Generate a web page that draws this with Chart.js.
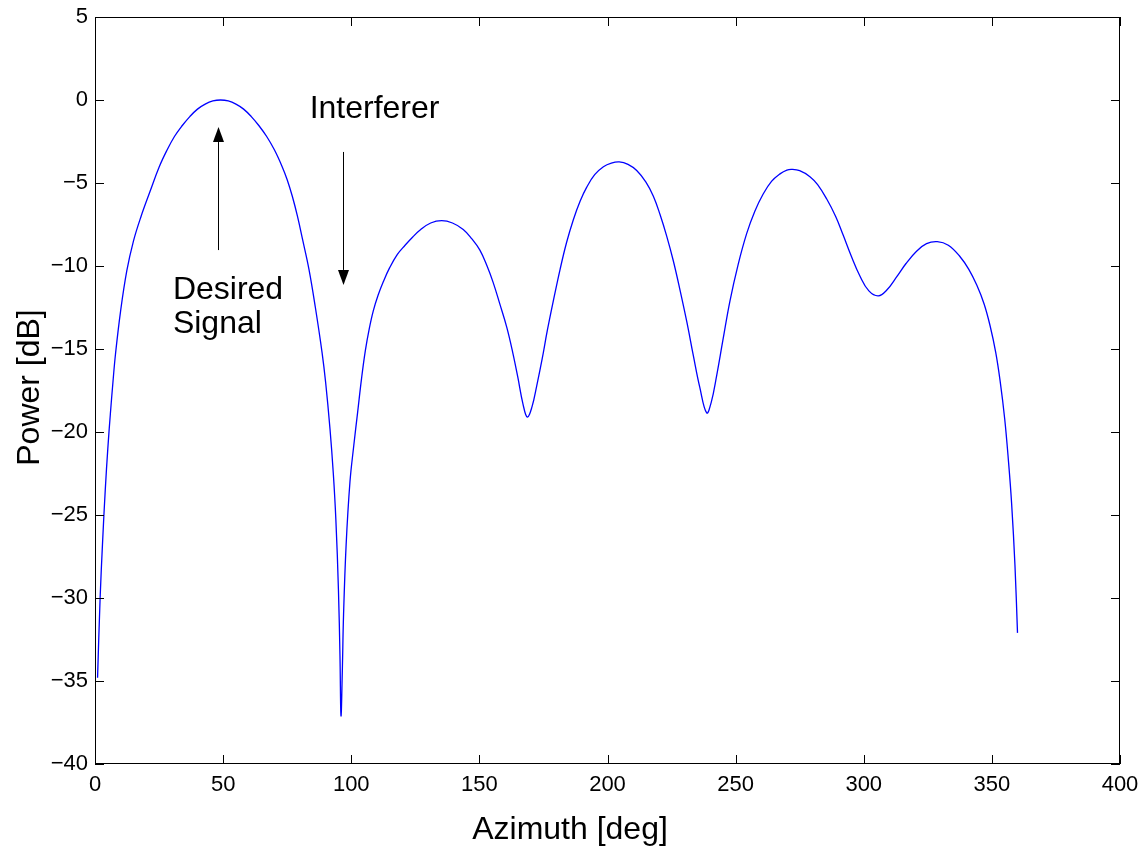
<!DOCTYPE html>
<html>
<head>
<meta charset="utf-8">
<script src="https://cdn.jsdelivr.net/npm/chart.js@4/dist/chart.umd.min.js"></script>
<style>
html,body{margin:0;padding:0;background:#fff;}
#c{display:block;}
</style>
</head>
<body>
<canvas id="c" width="1139" height="848"></canvas>
<script>
// ---- data ----
const azimuth = [1,2,3,4,5,6,7,8,10,12.4,15,18,21.5,25,28,31,34,37,40,43,46,49,52,55,58,61,64,67,70,73,75,77,79,81,83.5,86,88.6,90,91.7,93,94,95,95.6,96,96.5,97,98,99.5,101,102.5,104,105.5,107,108.6,110.5,112.5,115,118,121,124,127,131,135.3,139.5,143.7,147,150.2,153,155.4,158,160.7,163,165,167,168.7,170.5,172.4,174.5,176.5,179,181.5,184,186.7,189.3,191.9,195,198.4,201.5,204.6,208,211.4,215,217.9,220.5,223.1,225.7,228.3,231,233.5,236,238.7,240.5,242.6,245,247.8,251,254.3,257.5,260.8,264,267.3,270,272,275,279,282,285.5,289,292,295,298.5,302,305.7,309,312.9,316.5,320.7,324.5,328.7,333,337.6,341,344.1,347,349.3,351.5,353.2,355,356.5,357.7,359,360];
const powerDb = [-34.8,-30,-26.5,-23.5,-21.0,-18.9,-17.0,-15.3,-12.7,-10.3,-8.5,-7.0,-5.5,-4.05,-3.05,-2.2,-1.55,-1.0,-0.55,-0.25,-0.06,0,-0.06,-0.25,-0.55,-1.0,-1.55,-2.2,-3.0,-4.0,-4.8,-5.8,-7.0,-8.4,-10.2,-12.5,-15.2,-17,-19.8,-22.5,-25.3,-29.5,-33.5,-37.1,-34.5,-31,-26.8,-23,-20.8,-18.8,-16.8,-15.1,-13.8,-12.7,-11.75,-10.95,-10.1,-9.3,-8.75,-8.25,-7.82,-7.41,-7.27,-7.41,-7.8,-8.35,-9.04,-10.0,-11.0,-12.3,-13.7,-15.2,-16.7,-18.3,-19.1,-18.5,-17.2,-15.6,-13.9,-12.0,-10.2,-8.6,-7.2,-6.1,-5.25,-4.5,-4.02,-3.8,-3.73,-3.88,-4.25,-4.95,-5.8,-6.9,-8.2,-9.7,-11.45,-13.4,-15.4,-17.3,-18.85,-18.2,-16.6,-14.5,-12.1,-9.9,-8.05,-6.7,-5.65,-4.9,-4.45,-4.22,-4.18,-4.26,-4.62,-5.1,-5.95,-7.0,-8.15,-9.35,-10.6,-11.5,-11.8,-11.45,-10.64,-9.85,-9.1,-8.65,-8.53,-8.75,-9.44,-10.2,-11.15,-12.3,-13.6,-15.2,-16.9,-19.2,-21.8,-24.3,-28.0,-32.1];
const xTickValues = [0,50,100,150,200,250,300,350,400];
const yTickValues = [5,0,-5,-10,-15,-20,-25,-30,-35,-40];
const xTitle = 'Azimuth [deg]';
const yTitle = 'Power [dB]';
// annotation anchors (data coordinates)
const desiredArrow = {x:48, yFrom:-9.04, yTo:-1.63};
const interfArrow = {x:96.6, yFrom:-3.13, yTo:-11.14};
const interfText = {text:'Interferer', x:109.1, y:-0.54};
const desiredText = {lines:['Desired','Signal'], x:30.4, y:[-11.99,-14.04]};

const FONT = '"Liberation Sans", Arial, Helvetica, sans-serif';

const points = azimuth.map((a,i)=>({x:a, y:powerDb[i]}));

const frame = {
  id:'frame',
  afterDraw(chart){
    const {ctx, chartArea:{left,right,top,bottom}, scales:{x,y}} = chart;
    ctx.save();
    ctx.strokeStyle='#000';
    ctx.lineWidth=1;
    ctx.strokeRect(left+0.5, top+0.5, right-left-1, bottom-top-1);
    ctx.beginPath();
    const TL = 9;
    xTickValues.forEach(v=>{
      const px = Math.round(x.getPixelForValue(v))+0.5;
      ctx.moveTo(px,bottom); ctx.lineTo(px,bottom-TL);
      ctx.moveTo(px,top); ctx.lineTo(px,top+TL);
    });
    yTickValues.forEach(v=>{
      const py = Math.round(y.getPixelForValue(v))+0.5;
      ctx.moveTo(left,py); ctx.lineTo(left+TL,py);
      ctx.moveTo(right,py); ctx.lineTo(right-TL,py);
    });
    ctx.stroke();

    function arrow(a){
      const px = Math.round(x.getPixelForValue(a.x))+0.5;
      const y0 = y.getPixelForValue(a.yFrom);
      const y1 = y.getPixelForValue(a.yTo);
      const dir = y1 < y0 ? -1 : 1;
      const hl = 15, hw = 5.5;
      ctx.beginPath();
      ctx.moveTo(px,y0); ctx.lineTo(px,y1 - dir*hl);
      ctx.stroke();
      ctx.beginPath();
      ctx.moveTo(px,y1);
      ctx.lineTo(px-hw,y1-dir*hl);
      ctx.lineTo(px+hw,y1-dir*hl);
      ctx.closePath();
      ctx.fillStyle='#000';
      ctx.fill();
    }
    arrow(desiredArrow);
    arrow(interfArrow);

    ctx.fillStyle='#000';
    ctx.font = '32px ' + FONT;
    ctx.textBaseline='middle';
    ctx.textAlign='center';
    ctx.fillText(interfText.text, x.getPixelForValue(interfText.x), y.getPixelForValue(interfText.y));
    ctx.textAlign='left';
    ctx.textBaseline='alphabetic';
    desiredText.lines.forEach((t,i)=>{
      ctx.fillText(t, x.getPixelForValue(desiredText.x), y.getPixelForValue(desiredText.y[i]));
    });

    // axis titles
    ctx.textAlign='center';
    ctx.textBaseline='middle';
    ctx.fillText(xTitle, 570, 830);
    ctx.translate(30, (top+bottom)/2 - 3);
    ctx.rotate(-Math.PI/2);
    ctx.fillText(yTitle, 0, 0);
    ctx.restore();
  }
};

function zeroPad(s){ s.paddingLeft = 0; s.paddingRight = 0; s.paddingTop = 0; s.paddingBottom = 0; }

new Chart(document.getElementById('c'), {
  type:'line',
  data:{datasets:[{
    data:points,
    borderColor:'#0000ff',
    borderWidth:1.3,
    pointRadius:0,
    fill:false,
    tension:0.4
  }]},
  options:{
    responsive:false,
    animation:false,
    devicePixelRatio:1,
    layout:{padding:{top:17,right:19,left:0,bottom:0}},
    plugins:{legend:{display:false},tooltip:{enabled:false}},
    scales:{
      x:{
        type:'linear', min:0, max:400,
        afterBuildTicks(s){ s.ticks = xTickValues.map(v=>({value:v})); },
        afterFit(s){ s.height = 84; zeroPad(s); },
        grid:{display:false, drawTicks:false},
        border:{display:false},
        ticks:{color:'#000', font:{family:FONT,size:22}, padding:8, maxRotation:0,
          callback:(v)=>String(v)},
        title:{display:false}
      },
      y:{
        type:'linear', min:-40, max:5,
        afterBuildTicks(s){ s.ticks = yTickValues.map(v=>({value:v})); },
        afterFit(s){ s.width = 95; zeroPad(s); },
        grid:{display:false, drawTicks:false},
        border:{display:false},
        ticks:{color:'#000', font:{family:FONT,size:22}, padding:7,
          callback:(v)=> (v<0 ? '\u2212'+Math.abs(v) : String(v))},
        title:{display:false}
      }
    }
  },
  plugins:[frame]
});
</script>
</body>
</html>
